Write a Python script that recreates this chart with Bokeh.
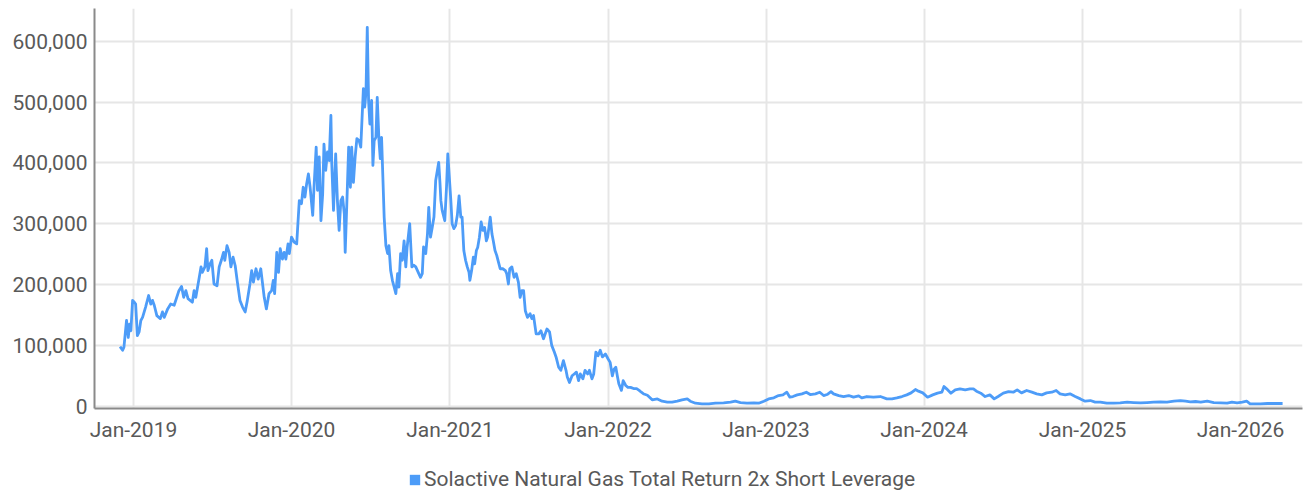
from datetime import datetime
import pandas as pd
from bokeh.plotting import figure
from bokeh.layouts import column
from bokeh.models import (Range1d, FixedTicker, NumeralTickFormatter, DatetimeTickFormatter,
                          Legend, LegendItem, ColumnDataSource)
from bokeh.embed import file_html
from bokeh.resources import INLINE

SERIES_NAME = "Solactive Natural Gas Total Return 2x Short Leverage"

dates = [
    "2018-12-01", "2018-12-07", "2018-12-10", "2018-12-16", "2018-12-20", "2018-12-23", "2018-12-26", "2018-12-30",
    "2019-01-03", "2019-01-06", "2019-01-10", "2019-01-14", "2019-01-18", "2019-01-22", "2019-01-29", "2019-02-05",
    "2019-02-10", "2019-02-14", "2019-02-18", "2019-02-24", "2019-03-04", "2019-03-09", "2019-03-13", "2019-03-21",
    "2019-03-28", "2019-04-05", "2019-04-16", "2019-04-22", "2019-04-27", "2019-05-02", "2019-05-07", "2019-05-17",
    "2019-05-21", "2019-05-25", "2019-06-02", "2019-06-06", "2019-06-09", "2019-06-15", "2019-06-19", "2019-06-22",
    "2019-06-27", "2019-07-01", "2019-07-06", "2019-07-13", "2019-07-18", "2019-07-23", "2019-07-28", "2019-07-31",
    "2019-08-05", "2019-08-10", "2019-08-14", "2019-08-19", "2019-08-24", "2019-08-29", "2019-09-04", "2019-09-10",
    "2019-09-16", "2019-09-21", "2019-09-27", "2019-10-01", "2019-10-05", "2019-10-11", "2019-10-16", "2019-10-22",
    "2019-10-30", "2019-11-04", "2019-11-10", "2019-11-16", "2019-11-20", "2019-11-23", "2019-11-28", "2019-12-02",
    "2019-12-06", "2019-12-11", "2019-12-15", "2019-12-19", "2019-12-24", "2019-12-27",
    "2020-01-01", "2020-01-07", "2020-01-13", "2020-01-19", "2020-01-24", "2020-01-28", "2020-02-01", "2020-02-05",
    "2020-02-09", "2020-02-13", "2020-02-19", "2020-02-22", "2020-02-27", "2020-03-01", "2020-03-05", "2020-03-09",
    "2020-03-13", "2020-03-16", "2020-03-20", "2020-03-24", "2020-03-28", "2020-04-01", "2020-04-03", "2020-04-07",
    "2020-04-12", "2020-04-16", "2020-04-20", "2020-04-24", "2020-04-28", "2020-05-02", "2020-05-04", "2020-05-08",
    "2020-05-12", "2020-05-16", "2020-05-19", "2020-05-23", "2020-05-27", "2020-05-31", "2020-06-05", "2020-06-09",
    "2020-06-15", "2020-06-18", "2020-06-21", "2020-06-24", "2020-06-27", "2020-06-30", "2020-07-04", "2020-07-07",
    "2020-07-10", "2020-07-14", "2020-07-17", "2020-07-21", "2020-07-24", "2020-07-27", "2020-07-30", "2020-08-02",
    "2020-08-06", "2020-08-10", "2020-08-13", "2020-08-17", "2020-08-21", "2020-08-25", "2020-08-29", "2020-09-02",
    "2020-09-05", "2020-09-09", "2020-09-13", "2020-09-17", "2020-09-21", "2020-09-24", "2020-09-30", "2020-10-05",
    "2020-10-09", "2020-10-14", "2020-10-21", "2020-10-25", "2020-10-29", "2020-11-01", "2020-11-06", "2020-11-10",
    "2020-11-13", "2020-11-17", "2020-11-21", "2020-11-25", "2020-11-29", "2020-12-06", "2020-12-09", "2020-12-11",
    "2020-12-14", "2020-12-20", "2020-12-24", "2020-12-27",
    "2021-01-03", "2021-01-06", "2021-01-10", "2021-01-14", "2021-01-18", "2021-01-22", "2021-01-26", "2021-01-29",
    "2021-02-02", "2021-02-06", "2021-02-10", "2021-02-14", "2021-02-16", "2021-02-20", "2021-02-24", "2021-02-27",
    "2021-03-03", "2021-03-06", "2021-03-10", "2021-03-14", "2021-03-18", "2021-03-22", "2021-03-26", "2021-03-29",
    "2021-04-04", "2021-04-08", "2021-04-11", "2021-04-15", "2021-04-19", "2021-04-23", "2021-04-27", "2021-05-03",
    "2021-05-09", "2021-05-12", "2021-05-16", "2021-05-19", "2021-05-24", "2021-05-29", "2021-06-03", "2021-06-08",
    "2021-06-12", "2021-06-16", "2021-06-20", "2021-06-24", "2021-06-29", "2021-07-05", "2021-07-09", "2021-07-13",
    "2021-07-19", "2021-07-25", "2021-07-30", "2021-08-05", "2021-08-09", "2021-08-13", "2021-08-19", "2021-08-24",
    "2021-08-30", "2021-09-03", "2021-09-09", "2021-09-14", "2021-09-20", "2021-09-26", "2021-09-29", "2021-10-04",
    "2021-10-10", "2021-10-15", "2021-10-20", "2021-10-25", "2021-10-29", "2021-11-04", "2021-11-09", "2021-11-15",
    "2021-11-19", "2021-11-25", "2021-11-29", "2021-12-04", "2021-12-09", "2021-12-14", "2021-12-19", "2021-12-26",
    "2022-01-01", "2022-01-06", "2022-01-11", "2022-01-15", "2022-01-19", "2022-01-23", "2022-01-26", "2022-02-01",
    "2022-02-05", "2022-02-11", "2022-02-16", "2022-02-22", "2022-03-01", "2022-03-08", "2022-03-14", "2022-03-19",
    "2022-03-25", "2022-04-02", "2022-04-13", "2022-04-25", "2022-05-06", "2022-05-18", "2022-05-29", "2022-06-10",
    "2022-06-21", "2022-07-03", "2022-07-10", "2022-07-22", "2022-08-06", "2022-08-22", "2022-09-06", "2022-09-25",
    "2022-10-11", "2022-10-22", "2022-11-03", "2022-11-18", "2022-12-04", "2022-12-15", "2022-12-27",
    "2023-01-07", "2023-01-19", "2023-01-30", "2023-02-09", "2023-02-18", "2023-02-25", "2023-03-04", "2023-03-14",
    "2023-03-25", "2023-04-04", "2023-04-13", "2023-04-25", "2023-05-05", "2023-05-14", "2023-05-22", "2023-05-31",
    "2023-06-06", "2023-06-18", "2023-06-29", "2023-07-11", "2023-07-22", "2023-08-03", "2023-08-10", "2023-08-22",
    "2023-09-06", "2023-09-22", "2023-10-07", "2023-10-19", "2023-10-30", "2023-11-11", "2023-11-22", "2023-12-02",
    "2023-12-12", "2023-12-19", "2023-12-29",
    "2024-01-09", "2024-01-21", "2024-02-01", "2024-02-11", "2024-02-16", "2024-02-22", "2024-03-03", "2024-03-13",
    "2024-03-24", "2024-04-05", "2024-04-16", "2024-04-24", "2024-05-01", "2024-05-11", "2024-05-21", "2024-06-01",
    "2024-06-11", "2024-06-20", "2024-07-02", "2024-07-14", "2024-07-25", "2024-08-03", "2024-08-13", "2024-08-25",
    "2024-09-06", "2024-09-17", "2024-09-29", "2024-10-10", "2024-10-22", "2024-11-01", "2024-11-10", "2024-11-22",
    "2024-12-03", "2024-12-15", "2024-12-27",
    "2025-01-07", "2025-01-19", "2025-01-30", "2025-02-11", "2025-02-26", "2025-03-14", "2025-03-29", "2025-04-14",
    "2025-04-29", "2025-05-15", "2025-05-30", "2025-06-14", "2025-06-30", "2025-07-15", "2025-07-31", "2025-08-15",
    "2025-08-27", "2025-09-07", "2025-09-19", "2025-10-01", "2025-10-16", "2025-10-31", "2025-11-16", "2025-12-01",
    "2025-12-12", "2025-12-24",
    "2026-01-05", "2026-01-15", "2026-01-23", "2026-02-01", "2026-02-16", "2026-03-04", "2026-03-19", "2026-04-08",
]

index_values = [
    98000, 92000, 97000, 141000, 113000, 135000, 124000, 174000,
    171000, 168000, 116000, 122000, 141000, 146000, 163000, 182000,
    168000, 174000, 166000, 149000, 144000, 155000, 146000, 160000,
    168000, 166000, 190000, 197000, 179000, 190000, 177000, 171000,
    190000, 179000, 212000, 229000, 220000, 229000, 259000, 223000,
    234000, 240000, 201000, 198000, 229000, 240000, 253000, 240000,
    264000, 253000, 229000, 245000, 231000, 204000, 174000, 163000,
    155000, 174000, 201000, 223000, 204000, 226000, 209000, 226000,
    179000, 160000, 185000, 190000, 207000, 185000, 253000, 220000,
    259000, 242000, 253000, 242000, 267000, 251000,
    278000, 270000, 267000, 338000, 333000, 360000, 344000, 366000,
    382000, 360000, 314000, 360000, 426000, 355000, 410000, 305000,
    349000, 431000, 388000, 418000, 404000, 478000, 399000, 322000,
    415000, 338000, 289000, 338000, 344000, 316000, 253000, 338000,
    426000, 360000, 426000, 368000, 410000, 440000, 437000, 426000,
    522000, 492000, 516000, 623000, 503000, 464000, 503000, 396000,
    437000, 442000, 508000, 437000, 407000, 442000, 377000, 311000,
    264000, 251000, 264000, 223000, 207000, 196000, 185000, 218000,
    196000, 251000, 240000, 272000, 229000, 261000, 300000, 229000,
    232000, 229000, 218000, 212000, 218000, 262000, 251000, 283000,
    327000, 278000, 294000, 311000, 371000, 401000, 366000, 338000,
    322000, 305000, 360000, 415000,
    338000, 300000, 292000, 297000, 314000, 346000, 311000, 311000,
    256000, 240000, 229000, 220000, 207000, 223000, 245000, 234000,
    256000, 261000, 278000, 303000, 289000, 294000, 272000, 278000,
    311000, 283000, 272000, 256000, 248000, 237000, 226000, 226000,
    223000, 218000, 201000, 226000, 229000, 212000, 218000, 204000,
    179000, 190000, 190000, 157000, 146000, 152000, 144000, 149000,
    119000, 119000, 124000, 111000, 119000, 127000, 122000, 100000,
    89000, 81000, 64000, 59000, 75000, 59000, 48000, 39000,
    50000, 53000, 56000, 42000, 53000, 45000, 59000, 53000,
    59000, 45000, 53000, 89000, 83000, 92000, 81000, 86000,
    78000, 72000, 50000, 61000, 64000, 48000, 37000, 26000,
    42000, 34000, 31000, 31000, 29000, 29000, 26000, 23000,
    20000, 18000, 10400, 12000, 8200, 6600, 6600, 8200,
    10400, 12000, 8200, 4900, 3800, 3800, 4900, 5500,
    6600, 8200, 6000, 4900, 5500, 4900, 8200,
    12000, 13700, 17500, 18600, 23000, 14800, 15900, 18600,
    20300, 23000, 19200, 20300, 23000, 17500, 19200, 24000,
    20300, 17500, 15900, 17500, 14800, 17000, 13700, 15900,
    14800, 15900, 12000, 12000, 13700, 15900, 18600, 21900,
    27400, 24700, 21900,
    14800, 18600, 21400, 23000, 32300, 28500, 21400, 26900,
    28500, 26900, 28500, 28500, 24700, 21400, 15900, 18600,
    12000, 15900, 21400, 24000, 23000, 26900, 21900, 25800,
    23000, 20300, 18600, 21900, 23000, 25800, 20300, 18600,
    20300, 15900, 12000,
    8200, 9300, 6600, 6600, 4900, 4900, 5500, 6600,
    6000, 5500, 6000, 6600, 7100, 6600, 8200, 9300,
    8200, 7100, 7700, 6600, 8200, 6000, 5500, 4900,
    6600, 5500,
    6600, 8200, 3800, 3800, 3800, 4400, 4400, 4400,
]

tick_years = [2019, 2020, 2021, 2022, 2023, 2024, 2025, 2026]
y_ticks = [0, 100000, 200000, 300000, 400000, 500000, 600000]

FONT = "Roboto"
TEXT_COLOR = "#595959"
LINE_COLOR = "#4d9cf8"
GRID_COLOR = "#e6e6e6"
AXIS_COLOR = "#8a8a8a"

source = ColumnDataSource(data=dict(date=pd.to_datetime(dates), value=index_values))

x_ticks = [pd.Timestamp(year=y, month=1, day=1).value / 1e6 for y in tick_years]

# ---- main chart ----
p = figure(
    width=1304, height=450,
    x_axis_type="datetime",
    x_range=Range1d(datetime(2018, 10, 3), datetime(2026, 5, 24)),
    y_range=Range1d(-3800, 654000),
    output_backend="svg", toolbar_location=None,
    min_border_left=94, min_border_right=2, min_border_top=8, min_border_bottom=42,
)
p.outline_line_color = None
p.background_fill_color = "white"
p.border_fill_color = "white"

p.line("date", "value", source=source, line_color=LINE_COLOR, line_width=2.8, line_join="round")

p.xaxis.ticker = FixedTicker(ticks=x_ticks)
p.xaxis.formatter = DatetimeTickFormatter(
    years="%b-%Y", months="%b-%Y", days="%b-%Y", hours="%b-%Y", minutes="%b-%Y",
    hourmin="%b-%Y", seconds="%b-%Y", minsec="%b-%Y", milliseconds="%b-%Y", microseconds="%b-%Y")
p.yaxis.ticker = FixedTicker(ticks=y_ticks)
p.yaxis.formatter = NumeralTickFormatter(format="0,0")

for ax in (p.xaxis[0], p.yaxis[0]):
    ax.axis_line_color = AXIS_COLOR
    ax.axis_line_width = 2
    ax.major_tick_line_color = None
    ax.minor_tick_line_color = None
    ax.major_tick_out = 0
    ax.major_tick_in = 0
    ax.major_label_text_font = FONT
    ax.major_label_text_font_size = "21px"
    ax.major_label_text_color = TEXT_COLOR
p.yaxis.major_label_standoff = 7
p.xaxis.major_label_standoff = 9

p.xgrid.ticker = FixedTicker(ticks=x_ticks)
p.ygrid.ticker = FixedTicker(ticks=y_ticks)
for g in (p.xgrid[0], p.ygrid[0]):
    g.grid_line_color = GRID_COLOR
    g.grid_line_width = 2

# ---- legend strip below the chart ----
p2 = figure(
    width=1304, height=43,
    x_range=Range1d(0, 1), y_range=Range1d(0, 1),
    output_backend="svg", toolbar_location=None,
    x_axis_location=None, y_axis_location=None,
    min_border_left=0, min_border_right=0, min_border_top=0, min_border_bottom=0,
)
p2.outline_line_color = None
p2.xgrid.visible = False
p2.ygrid.visible = False
p2.background_fill_color = "white"
p2.border_fill_color = "white"

swatch = p2.quad(left="date", right="date", top="value", bottom="value", source=source,
                 fill_color=LINE_COLOR, line_color=None, visible=False)

legend = Legend(
    items=[LegendItem(label=SERIES_NAME, renderers=[swatch])],
    location=(314, 2), orientation="horizontal",
    border_line_color=None, background_fill_alpha=0,
    inactive_fill_alpha=0,
    label_text_font=FONT, label_text_font_size="21px", label_text_color=TEXT_COLOR,
    glyph_width=13, glyph_height=13, label_standoff=3,
    padding=2, margin=0, spacing=0, click_policy="none",
)
p2.add_layout(legend, "center")

layout = column(p, p2, spacing=0)

open("out.html", "w").write(file_html(layout, INLINE))
